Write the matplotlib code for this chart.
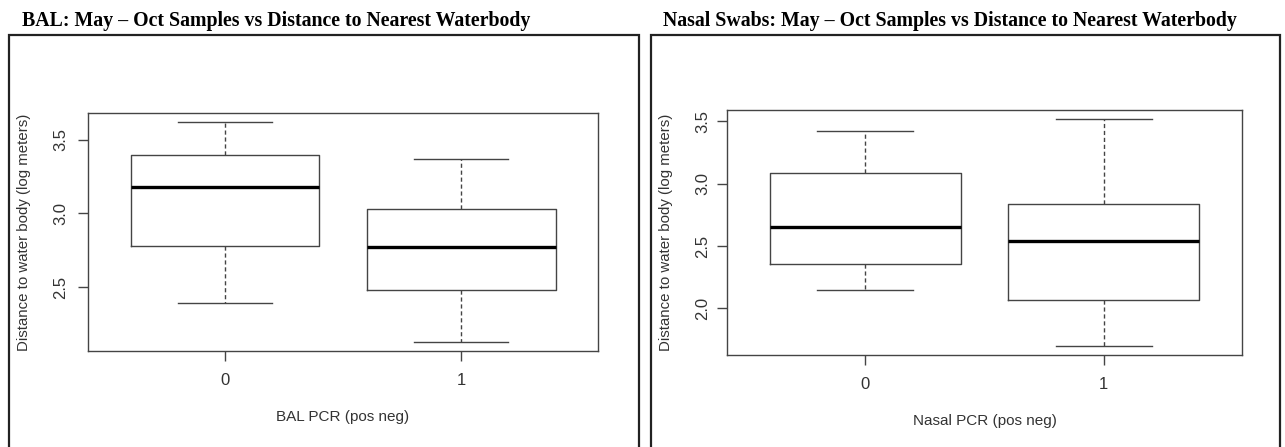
import matplotlib
matplotlib.use("Agg")
import matplotlib.pyplot as plt
from matplotlib.patches import Rectangle

# --- data ---
groups = ["0", "1"]

bal_whislo = [2.395, 2.128]
bal_q1 = [2.780, 2.480]
bal_med = [3.178, 2.771]
bal_q3 = [3.398, 3.027]
bal_whishi = [3.618, 3.371]

nasal_whislo = [2.145, 1.698]
nasal_q1 = [2.355, 2.067]
nasal_med = [2.651, 2.540]
nasal_q3 = [3.083, 2.839]
nasal_whishi = [3.424, 3.519]

bal_ticks = [2.5, 3.0, 3.5]
nasal_ticks = [2.0, 2.5, 3.0, 3.5]

W, H = 1285, 447
fig = plt.figure(figsize=(W / 100, H / 100), dpi=100)
fig.patch.set_facecolor("white")

SANS = ["Liberation Sans", "DejaVu Sans"]
SERIF = ["Liberation Serif", "DejaVu Serif"]
TXT = "#333333"
LINE = "#444444"


def px_axes(x0, y0, x1, y1):
    # pixel box (top-left origin) -> figure axes
    return fig.add_axes([x0 / W, 1 - y1 / H, (x1 - x0) / W, (y1 - y0) / H])


def panel(x0, x1, title, tx):
    fig.patches.append(Rectangle((x0 / W, -0.05), (x1 - x0) / W, 1.05 - 35 / H,
                                 transform=fig.transFigure, fill=False,
                                 edgecolor="#222222", lw=1.6))
    fig.text(tx / W, 1 - 26 / H, title, ha="left", va="baseline",
             family=SERIF, weight="bold", fontsize=14.3, color="black")


def boxes(ax, lo, q1, med, q3, hi, ticks, xlab, ypad):
    stats = []
    for i in range(len(groups)):
        stats.append(dict(whislo=lo[i], q1=q1[i], med=med[i], q3=q3[i],
                          whishi=hi[i], fliers=[], label=groups[i]))
    pos = list(range(1, len(groups) + 1))
    ax.bxp(stats, positions=pos, widths=0.8, capwidths=0.4, showfliers=False,
           boxprops=dict(color=LINE, lw=1.0),
           medianprops=dict(color="black", lw=2.4, solid_capstyle="butt"),
           whiskerprops=dict(color=LINE, lw=1.0, linestyle=(0, (3, 2))),
           capprops=dict(color=LINE, lw=1.0))
    n = len(groups)
    ax.set_xlim(0.5 - 0.04 * n, n + 0.5 + 0.04 * n)
    dmin, dmax = min(lo), max(hi)
    r = dmax - dmin
    ax.set_ylim(dmin - 0.04 * r, dmax + 0.04 * r)
    ax.set_xticks(pos)
    ax.set_xticklabels(groups, family=SANS, fontsize=12, color=TXT)
    ax.set_yticks(ticks)
    ax.set_yticklabels([f"{t:.1f}" for t in ticks], family=SANS, fontsize=12,
                       color=TXT, rotation=90, va="center")
    ax.tick_params(axis="x", length=7, width=1.0, color=LINE, pad=9)
    ax.tick_params(axis="y", length=7, width=1.0, color=LINE, pad=ypad)
    for s in ax.spines.values():
        s.set_color(LINE)
        s.set_linewidth(1.0)
    ax.set_xlabel(xlab, family=SANS, fontsize=11, color=TXT, labelpad=16)
    ax.set_ylabel("Distance to water body (log meters)", family=SANS,
                  fontsize=10.8, color=TXT, labelpad=16)


panel(9, 639, "BAL: May \u2013 Oct Samples vs Distance to Nearest Waterbody", 22)
panel(651, 1280, "Nasal Swabs: May \u2013 Oct Samples vs Distance to Nearest Waterbody", 663)

ax1 = px_axes(88, 113.3, 598, 350.7)
boxes(ax1, bal_whislo, bal_q1, bal_med, bal_q3, bal_whishi, bal_ticks, "BAL PCR (pos neg)", 7)

ax2 = px_axes(726.7, 110, 1242.3, 355)
boxes(ax2, nasal_whislo, nasal_q1, nasal_med, nasal_q3, nasal_whishi, nasal_ticks, "Nasal PCR (pos neg)", 5)

fig.savefig("out.png", dpi=100, facecolor="white")
